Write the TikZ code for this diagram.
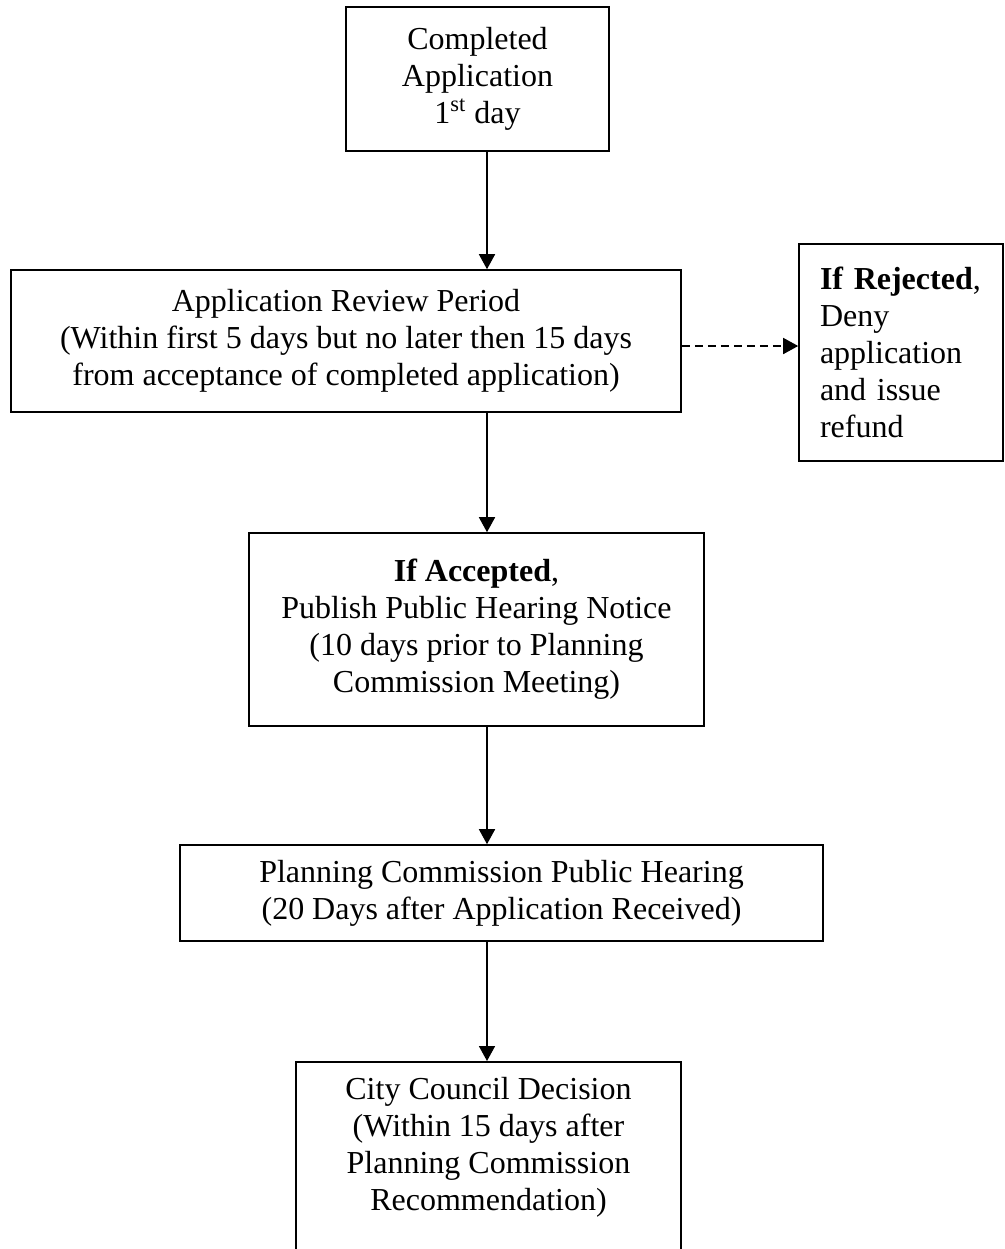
\documentclass[tikz,border=0pt]{standalone}
\usepackage{fontspec}
\setmainfont{Liberation Serif}
\usetikzlibrary{arrows.meta}

\tikzset{
  box/.style={draw, line width=0.8pt, align=center, inner sep=0pt},
  flow/.style={line width=0.8pt, -{Triangle[length=7.5pt,width=8pt]}},
}

\begin{document}
\begin{tikzpicture}[x=0.5pt, y=-0.5pt, font=\fontsize{16}{18.5}\selectfont]
\useasboundingbox (0,0) rectangle (1005,1249);
\coordinate (spine) at (487,0);
\coordinate (dashy) at (740,346);

% boxes
\node[box, minimum width=131.5pt, minimum height=72pt] (appl) at (477.5,79)
  {Completed\\Application\\1\textsuperscript{st} day};
\node[box, minimum width=335pt, minimum height=71pt] (review) at (346,341)
  {Application Review Period\\(Within first 5 days but no later then 15 days\\from acceptance of completed application)};
\node[box, align=left, text width=81pt, inner xsep=10.5pt, minimum height=108.5pt] (reject) at (901,352.5)
  {\textbf{If Rejected},\\Deny\\application\\and issue\\refund};
\node[box, minimum width=227.5pt, minimum height=96.5pt] (accept) at (476.5,629.5)
  {\textbf{If Accepted},\\Publish Public Hearing Notice\\(10 days prior to Planning\\Commission Meeting)};
\node[box, minimum width=321.5pt, minimum height=48pt] (hearing) at (501.5,893)
  {Planning Commission Public Hearing\\(20 Days after Application Received)};
\node[box, anchor=north, minimum width=192.5pt, minimum height=130pt] (council) at (488.5,1061) {};
\node[align=center] (councilTxt) at (488.5,1147)
  {City Council Decision\\(Within 15 days after\\Planning Commission\\Recommendation)};

% arrows
\draw[flow] (appl.south -| spine) -- (review.north -| spine);
\draw[flow] (review.south -| spine) -- (accept.north -| spine);
\draw[flow] (accept.south -| spine) -- (hearing.north -| spine);
\draw[flow] (hearing.south -| spine) -- (council.north -| spine);
\draw[flow, dash pattern=on 4pt off 2.5pt] (review.east |- dashy) -- (reject.west |- dashy);
\end{tikzpicture}
\end{document}
